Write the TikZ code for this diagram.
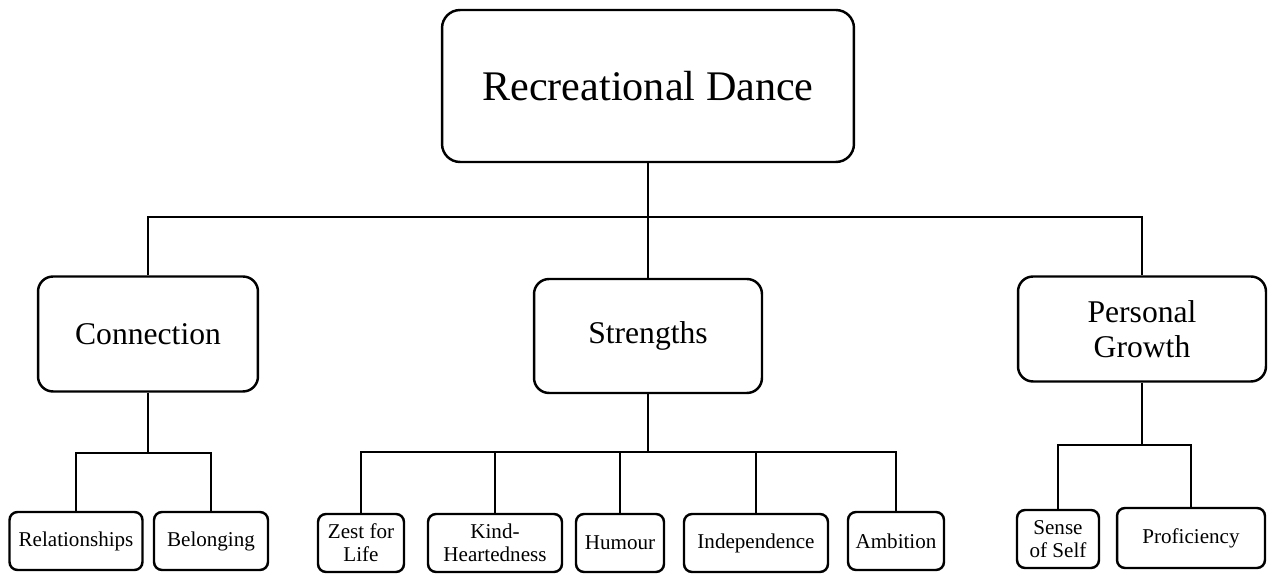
\documentclass[tikz,border=0pt]{standalone}
\usepackage{fontspec}
\setmainfont{Liberation Serif}
\usepackage{tikz}
\usetikzlibrary{positioning}

\begin{document}
\begin{tikzpicture}[x=0.02cm,y=-0.02cm,line width=1.4pt,
    topbox/.style={draw, rounded corners=0.36cm, text centered, text=black, minimum width=8.24cm, minimum height=3.04cm, font=\fontsize{24}{28}\selectfont},
    midbox/.style={draw, rounded corners=0.3cm, align=center, text=black, minimum height=2.3cm, font=\fontsize{18}{20}\selectfont},
    leafbox/.style={draw, rounded corners=0.16cm, align=center, text=black, minimum height=1.16cm, inner sep=1pt, font=\fontsize{12}{13}\selectfont}]
    \useasboundingbox (0,0) rectangle (1269,577);

    \node[topbox] (dance) at (648, 86) {Recreational Dance};

    \node[midbox, minimum width=4.4cm] (conn) at (148, 334) {Connection};
    \node[midbox, minimum width=4.56cm, minimum height=2.28cm] (str) at (648, 336) {Strengths};
    \node[midbox, minimum width=4.96cm, minimum height=2.1cm] (grow) at (1142, 329) {Personal\\Growth};

    \node[leafbox, minimum width=2.66cm] (rel) at (76, 541) {Relationships};
    \node[leafbox, minimum width=2.28cm] (bel) at (211, 541) {Belonging};

    \node[leafbox, minimum width=1.72cm] (zest) at (361, 543) {Zest for\\Life};
    \node[leafbox, minimum width=2.68cm] (kind) at (495, 543) {Kind-\\Heartedness};
    \node[leafbox, minimum width=1.76cm] (hum) at (620, 543) {Humour};
    \node[leafbox, minimum width=2.88cm] (ind) at (756, 543) {Independence};
    \node[leafbox, minimum width=1.92cm] (amb) at (896, 541) {Ambition};

    \node[leafbox, minimum width=1.64cm] (self) at (1058, 539) {Sense\\of Self};
    \node[leafbox, minimum width=2.96cm, minimum height=1.2cm] (prof) at (1191, 538) {Proficiency};

    \coordinate (topbar) at (648, 217);
    \coordinate (connbar) at (148, 453);
    \coordinate (strbar) at (648, 452);
    \coordinate (growbar) at (1142, 445);

    \draw (dance) -- (topbar);
    \draw (conn.north) |- (topbar) -| (grow.north);
    \draw (topbar) -- (str);

    \draw (conn) -- (connbar);
    \draw (rel.north) |- (connbar) -| (bel.north);

    \draw (str) -- (strbar);
    \draw (zest.north) |- (strbar) -| (amb.north);
    \draw (kind.north) -- (kind.north |- strbar);
    \draw (hum.north) -- (hum.north |- strbar);
    \draw (ind.north) -- (ind.north |- strbar);

    \draw (grow) -- (growbar);
    \draw (self.north) |- (growbar) -| (prof.north);
\end{tikzpicture}
\end{document}
